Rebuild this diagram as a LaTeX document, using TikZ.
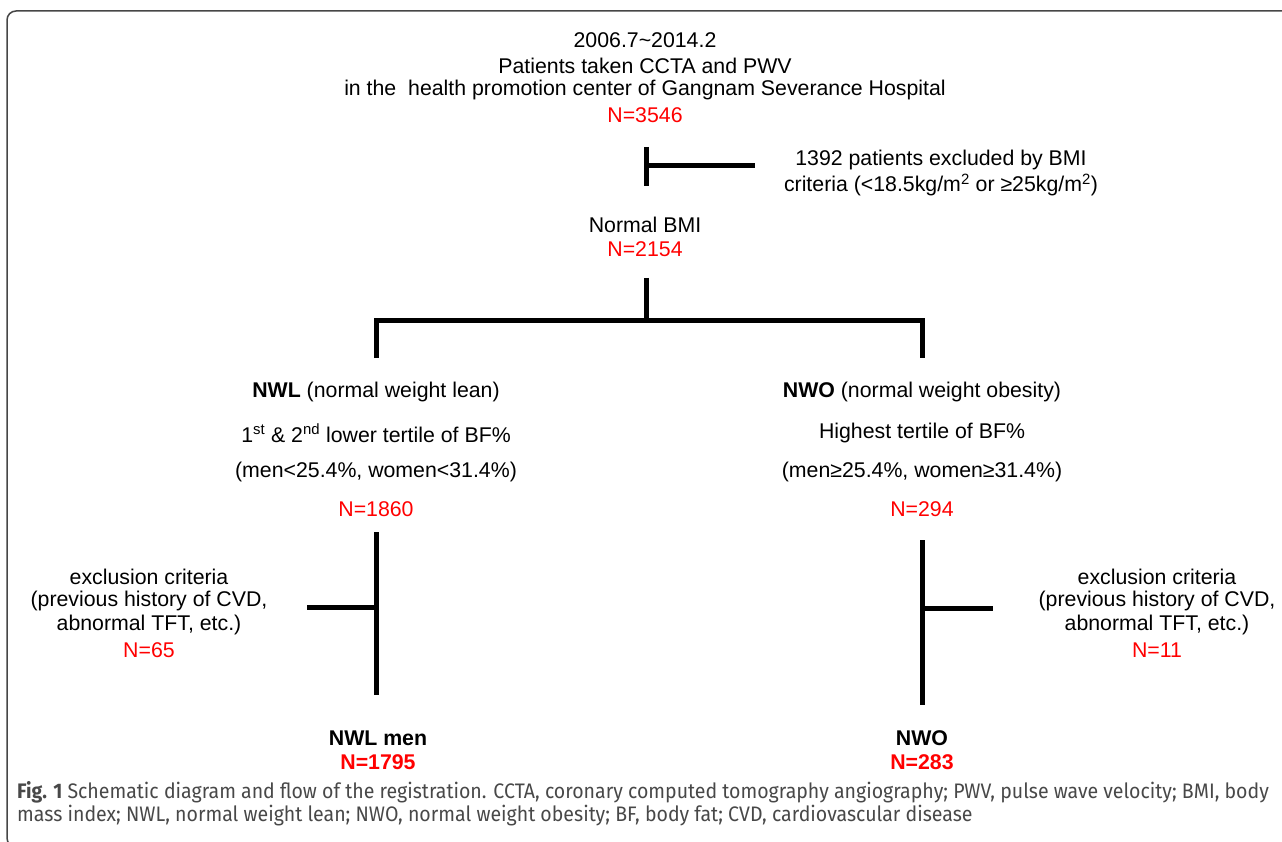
\documentclass[tikz,border=0pt]{standalone}
\usepackage{fontspec}
\setmainfont{Liberation Sans}
\newfontfamily\capfont[FakeStretch=0.93]{Fira Sans}
\definecolor{nred}{RGB}{255,0,0}
\definecolor{framegray}{RGB}{70,70,70}
\definecolor{capgray}{RGB}{72,72,72}
\begin{document}
\begin{tikzpicture}[x=1pt,y=-1pt,
  txt/.style={font=\fontsize{21.3}{26}\selectfont, align=center, inner sep=0pt, anchor=center},
  num/.style={txt, text=nred},
  bnum/.style={txt, text=nred, font=\fontsize{21.3}{26}\selectfont\bfseries},
  btxt/.style={txt, font=\fontsize{21.3}{26}\selectfont\bfseries},
  bar/.style={line width=5pt},
  captxt/.style={font=\capfont\fontsize{21}{26}\selectfont, text=capgray, anchor=west, inner sep=0pt},
]
\useasboundingbox (0,0) rectangle (1282,842);
\draw[framegray, line width=1.5pt, rounded corners=9pt] (7,11) rectangle (1300,847);

% top block
\node[txt] (l1) at (645,40) {2006.7\textasciitilde 2014.2};
\node[txt] (l2) at (645,66) {Patients taken CCTA and PWV};
\node[txt] (l3) at (645,90) {in the \ health promotion center of Gangnam Severance Hospital};
\node[num] (n3546) at (645,115) {N=3546};

\node[txt] (ex1) at (941,160) {1392 patients excluded by BMI};
\node[txt] (ex1b) at (941,185) {criteria (<18.5kg/m\textsuperscript{2} or ≥25kg/m\textsuperscript{2})};

\node[txt] (bmi) at (645,225) {Normal BMI};
\node[num] (n2154) at (645,249) {N=2154};

% groups
\node[txt] (nwl1) at (376,392) {\textbf{NWL} (normal weight lean)};
\node[txt] (nwl2) at (376,433) {1\textsuperscript{st} \& 2\textsuperscript{nd} lower tertile of BF\%};
\node[txt] (nwl3) at (376,472) {(men<25.4\%, women<31.4\%)};
\node[num] (n1860) at (376,509) {N=1860};

\node[txt] (nwo1) at (922,392) {\textbf{NWO} (normal weight obesity)};
\node[txt] (nwo2) at (922,433) {Highest tertile of BF\%};
\node[txt] (nwo3) at (922,472) {(men≥25.4\%, women≥31.4\%)};
\node[num] (n294) at (922,509) {N=294};

% exclusion
\node[txt] (exl1) at (149,577) {exclusion criteria};
\node[txt] (exl2) at (149,601) {(previous history of CVD,};
\node[txt] (exl3) at (149,625) {abnormal TFT, etc.)};
\node[num] (n65) at (149,650) {N=65};

\node[txt] (exr1) at (1157,577) {exclusion criteria};
\node[txt] (exr2) at (1157,601) {(previous history of CVD,};
\node[txt] (exr3) at (1157,625) {abnormal TFT, etc.)};
\node[num] (n11) at (1157,650) {N=11};

% final
\node[btxt] (fl) at (378,738) {NWL men};
\node[bnum] (n1795) at (378,762) {N=1795};
\node[btxt] (fr) at (922,738) {NWO};
\node[bnum] (n283) at (922,762) {N=283};

% caption
\node[captxt] (cap1) at (17,792) {\textbf{Fig. 1} Schematic diagram and flow of the registration. CCTA, coronary computed tomography angiography; PWV, pulse wave velocity; BMI, body};
\node[captxt] (cap2) at (17,816) {mass index; NWL, normal weight lean; NWO, normal weight obesity; BF, body fat; CVD, cardiovascular disease};

% connector coordinates
\coordinate (t1a) at (646,147);
\coordinate (t1b) at (646,186);
\coordinate (t1m) at (646,166);
\coordinate (t1e) at (755,166);
\coordinate (s0) at (646,278);
\coordinate (s1) at (646,320);
\coordinate (sl) at (376,320);
\coordinate (sr) at (922,320);
\coordinate (sld) at (376,358);
\coordinate (srd) at (922,358);
\coordinate (va) at (376,532);
\coordinate (vb) at (376,695);
\coordinate (vm) at (376,607);
\coordinate (ve) at (307,607);
\coordinate (wa) at (922,540);
\coordinate (wb) at (922,705);
\coordinate (wm) at (922,608);
\coordinate (we) at (993,608);

\draw[bar] (t1a) -- (t1b);
\draw[bar] (t1m) -- (t1e);
\draw[bar] (s0) -- (s1);
\draw[bar] (sld) -- (sl) -- (sr) -- (srd);
\draw[bar] (va) -- (vb);
\draw[bar] (vm) -- (ve);
\draw[bar] (wa) -- (wb);
\draw[bar] (wm) -- (we);
\end{tikzpicture}
\end{document}
